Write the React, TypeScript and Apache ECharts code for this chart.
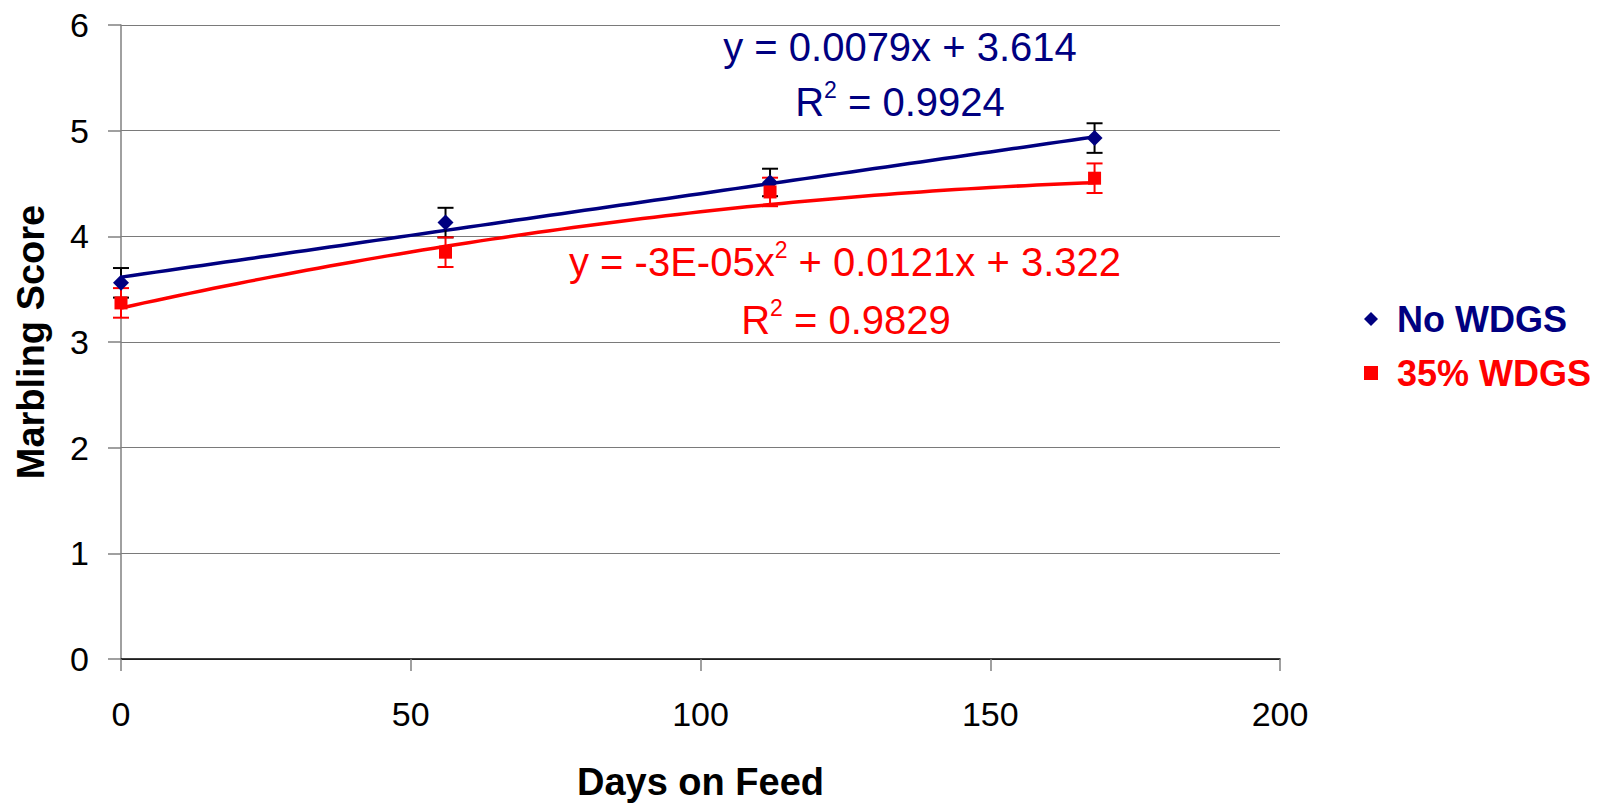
import React, { useEffect, useRef } from "react";
import * as echarts from "echarts";

// ---- data ----
const days = [0, 56, 112, 168];
const noWdgs = [3.56, 4.13, 4.51, 4.93];
const noWdgsErr = [0.14, 0.14, 0.13, 0.14];
const wdgs35 = [3.37, 3.85, 4.42, 4.55];
const wdgs35Err = [0.14, 0.14, 0.135, 0.14];
// trendline coefficients as shown in the chart
const noWdgsTrendCoef = [0.0079, 3.614]; // linear: a*x + b
const wdgs35TrendCoef = [-0.00003, 0.0121, 3.322]; // poly: a*x^2 + b*x + c
const xTicks = [0, 50, 100, 150, 200];
const yTicks = [0, 1, 2, 3, 4, 5, 6];

const NAVY = "#000080";
const RED = "#FF0000";
const FONT = "'Liberation Sans', Arial, sans-serif";

export default function App() {
  const ref = useRef<HTMLDivElement>(null);
  useEffect(() => {
    document.body.style.margin = "0";
    const chart = echarts.init(ref.current!, null, { renderer: "svg" });

    const xEnd = days[days.length - 1];
    const linTrend: number[][] = [];
    const polyTrend: number[][] = [];
    for (let x = 0; x <= xEnd; x += 2) {
      linTrend.push([x, noWdgsTrendCoef[0] * x + noWdgsTrendCoef[1]]);
      polyTrend.push([
        x,
        wdgs35TrendCoef[0] * x * x + wdgs35TrendCoef[1] * x + wdgs35TrendCoef[2],
      ]);
    }

    const errRender = (color: string) => (params: any, api: any) => {
      const x = api.value(0);
      const y = api.value(1);
      const e = api.value(2);
      const top = api.coord([x, y + e]);
      const bot = api.coord([x, y - e]);
      const half = 8;
      const st = { stroke: color, lineWidth: 2 };
      return {
        type: "group",
        children: [
          { type: "line", shape: { x1: top[0], y1: top[1], x2: bot[0], y2: bot[1] }, style: st },
          { type: "line", shape: { x1: top[0] - half, y1: top[1], x2: top[0] + half, y2: top[1] }, style: st },
          { type: "line", shape: { x1: bot[0] - half, y1: bot[1], x2: bot[0] + half, y2: bot[1] }, style: st },
        ],
      };
    };

    const eqRich = (color: string) => ({
      a: { fontSize: 40, fontFamily: FONT, color, lineHeight: 48, verticalAlign: "middle" },
      s: { fontSize: 23, fontFamily: FONT, color, lineHeight: 23, verticalAlign: "top" },
    });

    const eqText = (text: string, x: number, y: number, color: string) => ({
      type: "text",
      x,
      y,
      style: {
        text,
        rich: eqRich(color),
        align: "center",
        verticalAlign: "middle",
        fill: color,
        font: `40px ${FONT}`,
      },
      z: 100,
    });

    chart.setOption({
      animation: false,
      grid: {
        left: 121,
        right: 328,
        top: 25,
        bottom: 144,
        containLabel: false,
        outerBoundsMode: "none",
      },
      xAxis: {
        type: "value",
        min: xTicks[0],
        max: xTicks[xTicks.length - 1],
        interval: xTicks[1] - xTicks[0],
        name: "Days on Feed",
        nameLocation: "middle",
        nameGap: 104,
        nameTextStyle: { fontSize: 38, fontWeight: "bold", color: "#000", fontFamily: FONT },
        axisLine: { show: true, onZero: false, lineStyle: { color: "#000", width: 1.5 } },
        axisTick: { show: true, inside: false, length: 12, lineStyle: { color: "#808080", width: 1.5 } },
        axisLabel: { fontSize: 34, color: "#000", fontFamily: FONT, margin: 38 },
        splitLine: { show: false },
      },
      yAxis: {
        type: "value",
        min: yTicks[0],
        max: yTicks[yTicks.length - 1],
        interval: yTicks[1] - yTicks[0],
        name: "Marbling Score",
        nameLocation: "middle",
        nameGap: 71,
        nameTextStyle: { fontSize: 38, fontWeight: "bold", color: "#000", fontFamily: FONT },
        axisLine: { show: true, lineStyle: { color: "#808080", width: 1.5 } },
        axisTick: { show: true, inside: false, length: 13, lineStyle: { color: "#808080", width: 1.5 } },
        axisLabel: { fontSize: 34, color: "#000", fontFamily: FONT, margin: 32 },
        splitLine: { show: true, lineStyle: { color: "#7a7a7a", width: 1.2 } },
      },
      legend: {
        orient: "vertical",
        left: 1359,
        top: 296,
        itemGap: 18,
        itemWidth: 14,
        itemHeight: 14,
        data: [
          { name: "No WDGS", icon: "diamond", textStyle: { color: NAVY } },
          { name: "35% WDGS", icon: "rect", textStyle: { color: RED } },
        ],
        textStyle: { fontSize: 36, fontWeight: "bold", fontFamily: FONT, padding: [0, 0, 0, 14] },
      },
      graphic: [
        eqText("{a|y = 0.0079x + 3.614}", 900, 47, NAVY),
        eqText("{a|R}{s|2}{a| = 0.9924}", 900, 102, NAVY),
        eqText("{a|y = -3E-05x}{s|2}{a| + 0.0121x + 3.322}", 845, 262, RED),
        eqText("{a|R}{s|2}{a| = 0.9829}", 846, 320, RED),
      ],
      series: [
        {
          name: "No WDGS trend",
          type: "line",
          data: linTrend,
          showSymbol: false,
          symbol: "none",
          lineStyle: { color: NAVY, width: 3.5 },
          z: 2,
        },
        {
          name: "35% WDGS trend",
          type: "line",
          data: polyTrend,
          showSymbol: false,
          symbol: "none",
          lineStyle: { color: RED, width: 3.5 },
          z: 2,
        },
        {
          name: "No WDGS err",
          type: "custom",
          renderItem: errRender("#000"),
          data: days.map((d, i) => [d, noWdgs[i], noWdgsErr[i]]),
          z: 3,
        },
        {
          name: "35% WDGS err",
          type: "custom",
          renderItem: errRender(RED),
          data: days.map((d, i) => [d, wdgs35[i], wdgs35Err[i]]),
          z: 3,
        },
        {
          name: "No WDGS",
          type: "scatter",
          symbol: "diamond",
          symbolSize: 16,
          itemStyle: { color: NAVY, opacity: 1 },
          data: days.map((d, i) => [d, noWdgs[i]]),
          z: 4,
        },
        {
          name: "35% WDGS",
          type: "scatter",
          symbol: "rect",
          symbolSize: 13,
          itemStyle: { color: RED, opacity: 1 },
          data: days.map((d, i) => [d, wdgs35[i]]),
          z: 4,
        },
      ],
    });
    return () => chart.dispose();
  }, []);
  return <div ref={ref} style={{ width: 1608, height: 803 }} />;
}
